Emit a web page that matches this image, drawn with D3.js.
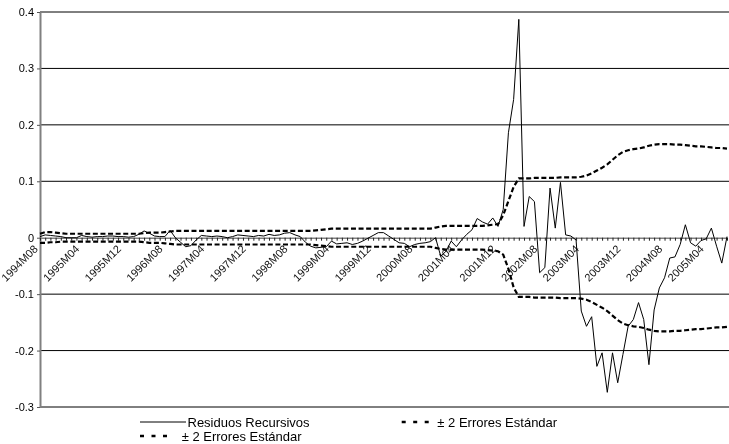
<!DOCTYPE html>
<html><head><meta charset="utf-8">
<script src="https://cdn.jsdelivr.net/npm/d3@7"></script>
<style>body{margin:0;background:#fff}svg{display:block;will-change:transform}</style>
</head><body><svg id="c" width="729" height="444"></svg>
<script>
// ---- data ----
const firstYear = 1994, firstMonth = 8, monthCount = 133;
const categories = [];
for (let k = 0; k < monthCount; k++) {
  const m = firstMonth - 1 + k;
  categories.push((firstYear + Math.floor(m / 12)) + "M" + String(m % 12 + 1).padStart(2, "0"));
}
const xTickLabels = ["1994M08","1995M04","1995M12","1996M08","1997M04","1997M12","1998M08","1999M04",
  "1999M12","2000M08","2001M04","2001M12","2002M08","2003M04","2003M12","2004M08","2005M04"];
const yTicks = [0.4, 0.3, 0.2, 0.1, 0, -0.1, -0.2, -0.3];
const yTickLabels = ["0.4","0.3","0.2","0.1","0","-0.1","-0.2","-0.3"];
const seriesNames = ["Residuos Recursivos", "± 2 Errores Estándar", "± 2 Errores Estándar"];

const residuals = [
  0.002, 0.005, 0.004, 0.003, 0.002, 0.000, 0.000, 0.000, 0.004, 0.002,
  0.001, 0.002, 0.002, 0.003, 0.003, 0.002, 0.002, 0.001, 0.002, 0.006,
  0.012, 0.008, 0.003, 0.002, 0.002, 0.013, 0.000, -0.008, -0.016, -0.014,
  -0.004, 0.004, 0.003, 0.002, 0.003, 0.002, 0.000, 0.002, 0.005, 0.004,
  0.003, 0.002, 0.004, 0.003, 0.006, 0.004, 0.005, 0.008, 0.009, 0.005,
  0.002, -0.008, -0.015, -0.018, -0.017, -0.016, -0.006, -0.011, -0.010, -0.009,
  -0.012, -0.010, -0.006, -0.001, 0.004, 0.009, 0.009, 0.003, -0.003, -0.009,
  -0.010, -0.016, -0.012, -0.010, -0.009, -0.007, 0.000, -0.033, -0.024, -0.006,
  -0.016, -0.004, 0.006, 0.014, 0.034, 0.028, 0.024, 0.035, 0.020, 0.050,
  0.186, 0.245, 0.387, 0.020, 0.073, 0.064, -0.062, -0.053, 0.088, 0.017,
  0.098, 0.005, 0.003, -0.004, -0.130, -0.157, -0.140, -0.228, -0.204, -0.274,
  -0.204, -0.257, -0.207, -0.157, -0.145, -0.115, -0.145, -0.225, -0.128, -0.089,
  -0.071, -0.036, -0.034, -0.012, 0.023, -0.009, -0.015, -0.005, -0.002, 0.017,
  -0.015, -0.045, 0.002
];
const upperBand = [
  0.007, 0.010, 0.010, 0.009, 0.008, 0.007, 0.007, 0.007, 0.007, 0.007,
  0.007, 0.007, 0.007, 0.007, 0.007, 0.007, 0.007, 0.007, 0.007, 0.007,
  0.008, 0.009, 0.009, 0.009, 0.010, 0.011, 0.012, 0.012, 0.012, 0.012,
  0.012, 0.012, 0.012, 0.012, 0.012, 0.012, 0.012, 0.012, 0.012, 0.012,
  0.012, 0.012, 0.012, 0.012, 0.012, 0.012, 0.012, 0.012, 0.012, 0.012,
  0.012, 0.012, 0.012, 0.013, 0.014, 0.015, 0.016, 0.016, 0.016, 0.016,
  0.016, 0.016, 0.016, 0.016, 0.016, 0.016, 0.016, 0.016, 0.016, 0.016,
  0.016, 0.016, 0.016, 0.016, 0.016, 0.016, 0.018, 0.020, 0.021, 0.021,
  0.021, 0.021, 0.021, 0.021, 0.021, 0.021, 0.022, 0.023, 0.024, 0.040,
  0.065, 0.090, 0.105, 0.105, 0.105, 0.106, 0.106, 0.106, 0.106, 0.106,
  0.107, 0.107, 0.107, 0.107, 0.108, 0.110, 0.114, 0.119, 0.124, 0.130,
  0.138, 0.146, 0.152, 0.155, 0.157, 0.158, 0.160, 0.163, 0.165, 0.166,
  0.166, 0.166, 0.165, 0.165, 0.164, 0.163, 0.162, 0.162, 0.161, 0.160,
  0.159, 0.159, 0.158
];
const lowerBand = [
  -0.009, -0.009, -0.008, -0.008, -0.007, -0.007, -0.007, -0.007, -0.007, -0.007,
  -0.007, -0.007, -0.007, -0.007, -0.007, -0.007, -0.007, -0.007, -0.007, -0.007,
  -0.008, -0.009, -0.009, -0.009, -0.010, -0.011, -0.012, -0.012, -0.012, -0.012,
  -0.012, -0.012, -0.012, -0.012, -0.012, -0.012, -0.012, -0.012, -0.012, -0.012,
  -0.012, -0.012, -0.012, -0.012, -0.012, -0.012, -0.012, -0.012, -0.012, -0.012,
  -0.012, -0.012, -0.012, -0.013, -0.014, -0.015, -0.016, -0.016, -0.016, -0.016,
  -0.016, -0.016, -0.016, -0.016, -0.016, -0.016, -0.016, -0.016, -0.016, -0.016,
  -0.016, -0.016, -0.016, -0.016, -0.016, -0.016, -0.018, -0.020, -0.021, -0.021,
  -0.021, -0.021, -0.021, -0.021, -0.021, -0.021, -0.022, -0.023, -0.024, -0.030,
  -0.055, -0.088, -0.105, -0.105, -0.105, -0.106, -0.106, -0.106, -0.106, -0.106,
  -0.107, -0.107, -0.107, -0.107, -0.108, -0.110, -0.114, -0.119, -0.124, -0.130,
  -0.138, -0.146, -0.152, -0.155, -0.157, -0.158, -0.160, -0.163, -0.165, -0.166,
  -0.166, -0.166, -0.165, -0.165, -0.164, -0.163, -0.162, -0.162, -0.161, -0.160,
  -0.159, -0.159, -0.158
];

// ---- drawing ----
const svg = d3.select("#c");
const FONT = "'Liberation Sans', Arial, sans-serif";
const x = d3.scalePoint().domain(categories).range([40, 727]);
const y = d3.scaleLinear().domain([-0.3, 0.4]).range([407, 12]);

// gridlines
svg.append("g").selectAll("line").data(yTicks.filter(v => v !== 0)).join("line")
  .attr("x1", 40).attr("x2", 729)
  .attr("y1", d => y(d)).attr("y2", d => y(d))
  .attr("stroke", "#000").attr("stroke-width", 1);

// y axis
const yAxis = d3.axisLeft(y).tickValues(yTicks)
  .tickFormat((d, i) => yTickLabels[i]).tickSize(3).tickSizeOuter(0).tickPadding(3);
const gy = svg.append("g").attr("transform", "translate(40,0)").call(yAxis);
gy.select(".domain").attr("stroke", "#808080").attr("stroke-width", 2);
gy.selectAll(".tick line").attr("stroke", "#555");
gy.selectAll("text").attr("font-family", FONT).attr("font-size", 11).attr("fill", "#000");

// x axis at zero
const xAxis = d3.axisBottom(x).tickValues(categories).tickSize(3).tickSizeOuter(0).tickFormat("");
const gx = svg.append("g").attr("transform", `translate(0,${y(0)})`).call(xAxis);
gx.select(".domain").attr("stroke", "#808080").attr("stroke-width", 1.5);
gx.selectAll(".tick line").attr("stroke", "#222");

// x labels
svg.append("g").selectAll("text").data(xTickLabels).join("text")
  .attr("transform", d => `translate(${x(d) - 1.5},${y(0) + 12}) rotate(-45)`)
  .attr("text-anchor", "end")
  .attr("font-family", FONT).attr("font-size", 11).attr("fill", "#111")
  .text(d => d);

// series
const line = d3.line().x((d, i) => x(categories[i])).y(d => y(d));
svg.append("path").datum(residuals).attr("d", line)
  .attr("fill", "none").attr("stroke", "#000").attr("stroke-width", 1);
[upperBand, lowerBand].forEach(s => {
  svg.append("path").datum(s).attr("d", line)
    .attr("fill", "none").attr("stroke", "#000").attr("stroke-width", 2.2)
    .attr("stroke-dasharray", "5,2.6");
});

// legend
const lg = svg.append("g").attr("font-family", FONT).attr("font-size", 13).attr("fill", "#000");
lg.append("line").attr("x1", 140).attr("x2", 186).attr("y1", 422).attr("y2", 422)
  .attr("stroke", "#000").attr("stroke-width", 1);
lg.append("text").attr("x", 187.5).attr("y", 426.5).text(seriesNames[0]);
lg.append("line").attr("x1", 401.7).attr("x2", 430).attr("y1", 422).attr("y2", 422)
  .attr("stroke", "#000").attr("stroke-width", 2.6).attr("stroke-dasharray", "4,7.5");
lg.append("text").attr("x", 437.3).attr("y", 426.5).text(seriesNames[1]);
lg.append("line").attr("x1", 140).attr("x2", 168).attr("y1", 436).attr("y2", 436)
  .attr("stroke", "#000").attr("stroke-width", 2.6).attr("stroke-dasharray", "4,7.5");
lg.append("text").attr("x", 181.7).attr("y", 441.3).text(seriesNames[2]);
</script>
</body></html>
